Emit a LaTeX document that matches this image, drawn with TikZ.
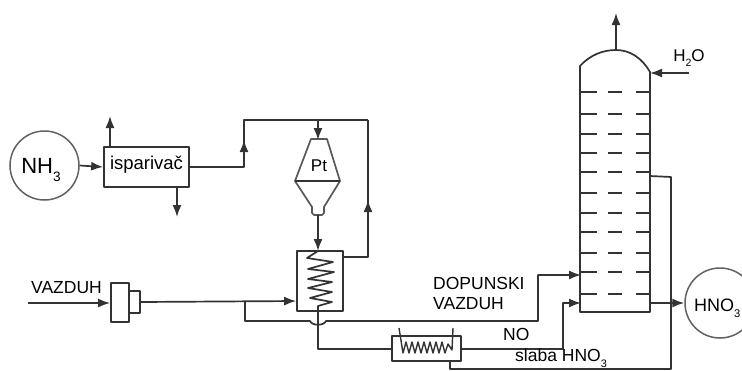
\documentclass[tikz,border=0pt]{standalone}
\usepackage{fontspec}
\usepackage{graphicx}
\setmainfont{Liberation Sans}
\usetikzlibrary{arrows.meta}
\newcommand\lowidx[1]{\raisebox{-0.32em}{\scalebox{0.62}{#1}}}
\tikzset{
  x=1pt,y=-1pt,
  line/.style={draw=black!80,line width=1.7pt,line join=round},
  flow/.style={line,-{Latex[length=12pt,width=9pt]}},
  vessel/.style={line,inner sep=0pt,fill=white},
  round vessel/.style={draw=black!62,line width=1.5pt,circle,inner sep=0pt,fill=white},
  label/.style={inner sep=0pt,text=black},
  tray/.style={line,line width=1.5pt},
}
\begin{document}
\begin{tikzpicture}
\clip (0,0) rectangle (742,370);
\fill[white] (0,0) rectangle (742,370);

% vessels
\node[round vessel,minimum size=69pt] (nh3) at (44.5,165.5) {};
\node[label,font=\fontsize{22}{24}\selectfont] at (41,170) {NH\lowidx{3}};
\node[vessel,minimum width=85pt,minimum height=40pt] (isp) at (146.5,167) {};
\node[label,font=\fontsize{18.5}{20}\selectfont] at (146.5,165) {isparivač};
\node[vessel,minimum width=46pt,minimum height=60pt] (hx) at (320,281) {};
\node[vessel,minimum width=69pt,minimum height=25pt] (cool) at (426.5,348.5) {};
\node[vessel,minimum width=18pt,minimum height=39pt] (comp) at (120,302.5) {};
\node[vessel,minimum width=11pt,minimum height=22pt] (compb) at (134.5,302) {};
\node[round vessel,minimum size=70pt] (hno) at (720,303) {};

% reactor
\coordinate (pttop) at (319,139);
\coordinate (ptbot) at (318,215);
\draw[line,draw=black!65,fill=white] (311,139) -- (327,139) -- (340,181) -- (324,207) -- (324,213)
  -- (322,215) -- (314,215) -- (312,213) -- (312,207) -- (295,181) -- cycle;
\draw[line] (295,181) -- (340,181);
\node[label,font=\fontsize{17}{20}\selectfont] (pt) at (319,166) {Pt};

% column
\coordinate (colL) at (580,66);
\coordinate (colR) at (650,72);
\coordinate (colT) at (616,50);
\draw[line] (colL) .. controls (590,55) and (603,50) .. (colT) .. controls (630,50) and (642,58) .. (colR)
  -- (650,312) -- (580,312) -- cycle;
\foreach \y in {92,114,134,153,172,193,213,232,253,272,294}{
  \draw[tray] (580,\y) -- (597,\y);
  \draw[tray] (608,\y) -- (622,\y);
  \draw[tray] (636,\y) -- (650,\y);
}

% connectors
\coordinate (top1) at (244,120);
\coordinate (top2) at (368,120);
\coordinate (ev1) at (244,167);
\draw[flow] (nh3.east) -- (isp.west |- 0,167);
\coordinate (ispup) at (110,147);
\coordinate (ispupt) at (110,116);
\draw[flow] (ispup) -- (ispupt);
\coordinate (ispdn) at (177,187);
\coordinate (ispdnt) at (177,217);
\draw[flow] (ispdn) -- (ispdnt);
\draw[line] (isp.east) -- (ev1) -- (top1) -- (top2);
\coordinate (a1) at (244,140);
\draw[flow] (ev1) -- (a1);
\coordinate (hxout) at (343,257);
\coordinate (retA) at (368,257);
\coordinate (retB) at (368,200);
\draw[line] (hxout) -- (retA) -- (top2);
\draw[flow] (retA) -- (retB);
\coordinate (ptin) at (318,120);
\draw[flow] (ptin) -- (318,140);
\draw[flow] (ptbot) -- (318,251);

% heat exchanger coil
\draw[line] (318,251) -- (307,258) -- (333,262) -- (308,269) -- (334,272) -- (308,279) -- (332,282)
  -- (308,288) -- (332,292) -- (310,298) -- (332,302) -- (318,306) -- (318,311);

% air
\node[label,font=\fontsize{17.5}{20}\selectfont] (vaz) at (66.5,288) {VAZDUH};
\coordinate (airin) at (28,303);
\draw[flow] (airin) -- (comp.west |- 0,303);
\draw[flow] (compb.east) -- (hx.west |- 0,301);
\coordinate (br) at (245,301);
\coordinate (brd) at (245,321);
\coordinate (dop1) at (538,321);
\coordinate (dop2) at (538,275);
\coordinate (dop3) at (581,275);
\draw[flow] (br) -- (brd) -- (310,321) .. controls (312,326) and (324,326) .. (326,321) -- (dop1) -- (dop2) -- (dop3);
\node[label,anchor=west,font=\fontsize{17.5}{20}\selectfont] (dl1) at (433,283) {DOPUNSKI};
\node[label,anchor=west,font=\fontsize{17.5}{20}\selectfont] (dl2) at (433,304) {VAZDUH};

% to cooler
\coordinate (hxb) at (318,311);
\coordinate (cin) at (318,349);
\draw[line] (hxb) -- (cin) -- (cool.west |- cin);

% cooler coil
\draw[line,line width=1.4pt] (399,328) -- (403,353) -- (406,342) -- (409,353) -- (412,342) -- (415,353) -- (418,342)
  -- (421,353) -- (424,342) -- (427,353) -- (430,342) -- (433,353) -- (436,342) -- (439,353) -- (442,342)
  -- (445,353) -- (448,344) -- (452,350) -- (453,328);

% NO
\coordinate (no1) at (563,349);
\coordinate (no2) at (563,303);
\draw[flow] (cool.east |- no1) -- (no1) -- (no2) -- (581,303);
\node[label,anchor=west,font=\fontsize{17.5}{20}\selectfont] (nol) at (503,334) {NO};

% weak acid recycle
\coordinate (sl0) at (450,361);
\coordinate (sl1) at (450,369);
\coordinate (sl2) at (671,369);
\coordinate (sl3) at (671,177);
\coordinate (sl4) at (650,176);
\draw[line] (sl0) -- (sl1) -- (sl2) -- (sl3) -- (sl4);
\node[label,anchor=west,font=\fontsize{17.5}{20}\selectfont] (sll) at (515,358) {slaba HNO\lowidx{3}};

% column connections
\coordinate (topt) at (616,13);
\draw[flow] (colT) -- (topt);
\coordinate (wat) at (689,73);
\draw[flow] (wat) -- (650,73);
\node[label,font=\fontsize{17}{20}\selectfont] (h2o) at (689,58) {H\lowidx{2}O};
\coordinate (colout) at (650,303);
\draw[flow] (colout) -- (hno.west);
\node[label,anchor=west,font=\fontsize{18}{20}\selectfont] (hnol) at (694,308) {HNO\lowidx{3}};
\end{tikzpicture}
\end{document}
